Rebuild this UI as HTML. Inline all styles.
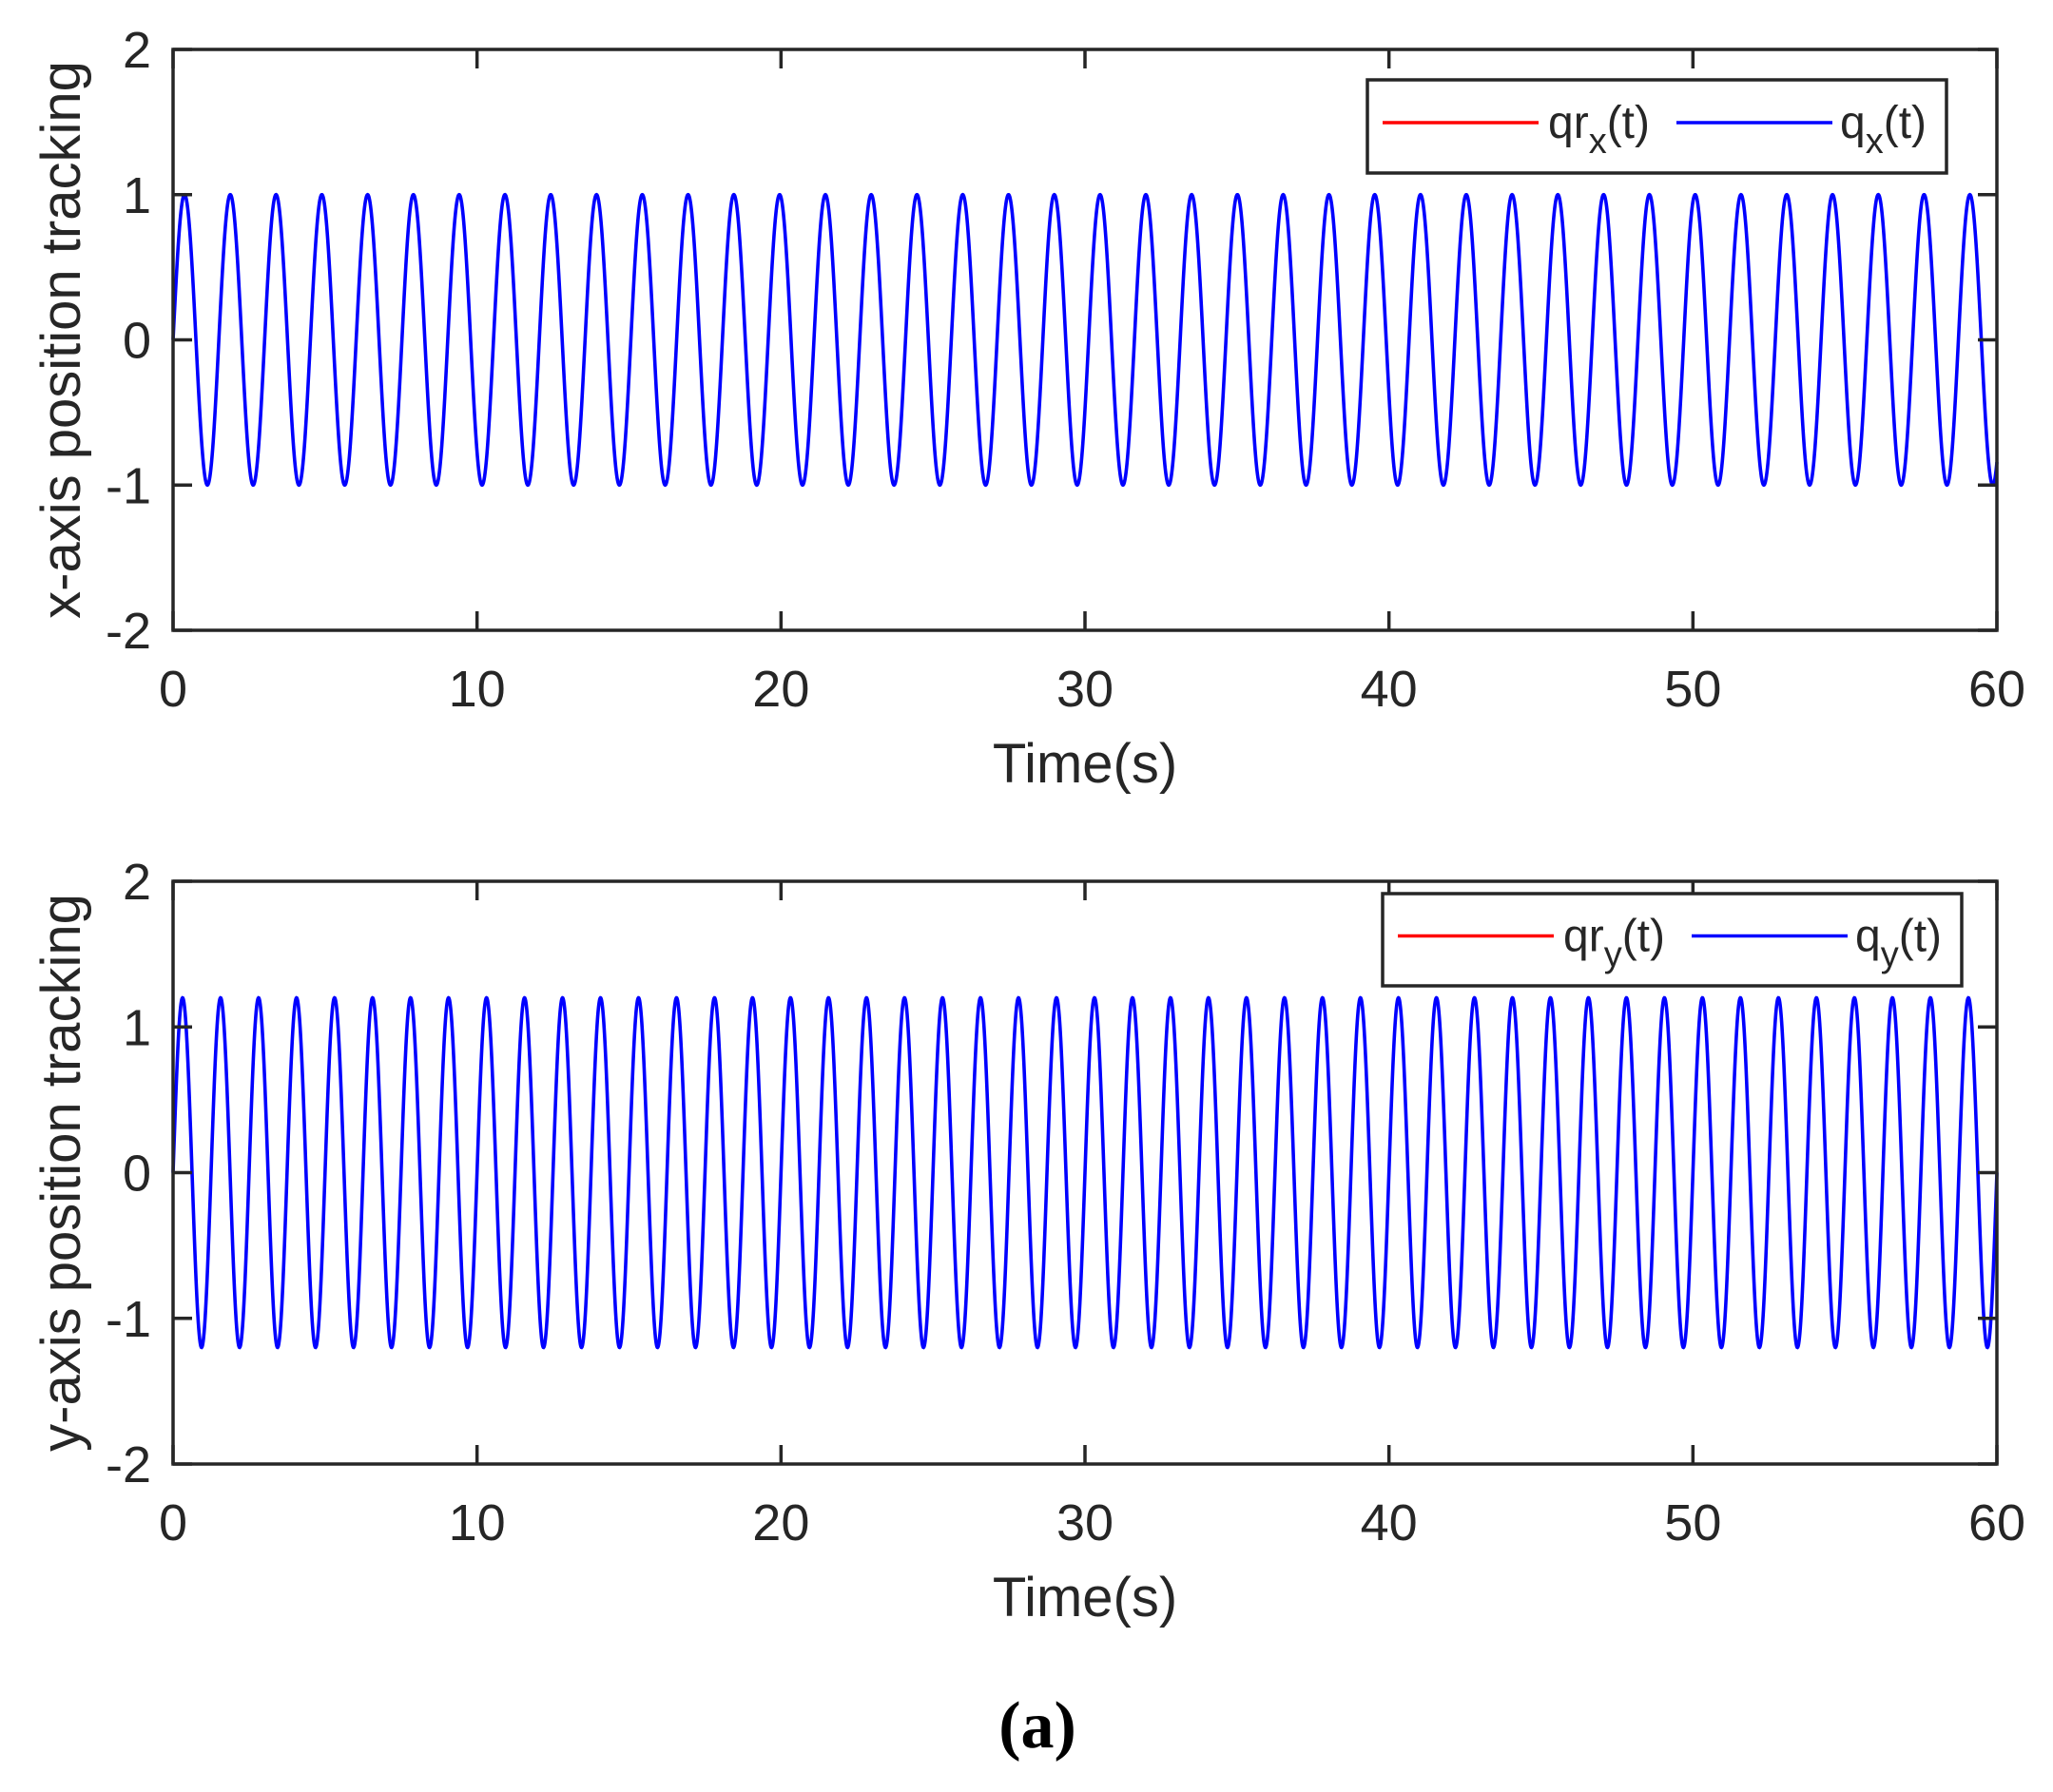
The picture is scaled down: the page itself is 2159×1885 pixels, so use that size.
<!DOCTYPE html>
<html><head><meta charset="utf-8"><style>
html,body{margin:0;padding:0;background:#fff}
svg{display:block}
text{font-family:"Liberation Sans",Arial,sans-serif;fill:#262626}
</style></head><body>
<svg id="s" width="2159" height="1885" viewBox="0 0 2159 1885" xmlns="http://www.w3.org/2000/svg">
<g id="g"></g>
<text x="1091" y="1838" text-anchor="middle" style="font-family:'Liberation Serif',serif;font-weight:bold;font-size:70px;fill:#000">(a)</text>
</svg>
<script>
var NS="http://www.w3.org/2000/svg",g=document.getElementById('g');
function el(t,a,txt){var e=document.createElementNS(NS,t);for(var k in a)e.setAttribute(k,a[k]);if(txt!==undefined)e.textContent=txt;g.appendChild(e);return e;}
var L=182,R=2100;
function panel(top,bot,amp,w,lab,leg,sub){
  var sx=function(t){return L+(R-L)*t/60;};
  var u=(bot-top)/4;var sy=function(v){return top+(2-v)*u;};
  var d="";
  for(var i=0;i<=6000;i++){var t=i*0.01;var y=amp*Math.sin(w*t);d+=(i?"L":"M")+sx(t).toFixed(2)+" "+sy(y).toFixed(2);}
  el('path',{d:d,fill:'none',stroke:'#0000ff','stroke-width':3.6});
  el('rect',{x:L,y:top,width:R-L,height:bot-top,fill:'none',stroke:'#262626','stroke-width':3.5});
  for(var k=0;k<=6;k++){var x=sx(k*10);
    el('line',{x1:x,y1:bot,x2:x,y2:bot-20,stroke:'#262626','stroke-width':3.5});
    el('line',{x1:x,y1:top,x2:x,y2:top+20,stroke:'#262626','stroke-width':3.5});
    el('text',{x:x,y:bot+80,'text-anchor':'middle','font-size':54},String(k*10));}
  for(var v=-2;v<=2;v++){var y=sy(v);
    el('line',{x1:L,y1:y,x2:L+20,y2:y,stroke:'#262626','stroke-width':3.5});
    el('line',{x1:R,y1:y,x2:R-20,y2:y,stroke:'#262626','stroke-width':3.5});
    el('text',{x:159,y:y+19,'text-anchor':'end','font-size':54},v<0?"-"+(-v):String(v));}
  el('text',{x:(L+R)/2,y:bot+160,'text-anchor':'middle','font-size':58},'Time(s)');
  var cy=(top+bot)/2;
  el('text',{x:84,y:cy,'text-anchor':'middle','font-size':58,transform:'rotate(-90 84 '+cy+')'},lab);
  var lx=leg[0],ly=leg[1],lw=leg[2],lh=leg[3];
  el('rect',{x:lx,y:ly,width:lw,height:lh,fill:'#fff',stroke:'#262626','stroke-width':3.5});
  var my=ly+lh/2-4;
  el('line',{x1:lx+16,y1:my,x2:lx+180,y2:my,stroke:'#ff0000','stroke-width':3.5});
  var t1=el('text',{x:lx+190,y:my+16,'font-size':48});
  t1.innerHTML='qr<tspan dy="16" font-size="38">'+sub+'</tspan><tspan dy="-16">(t)</tspan>';
  el('line',{x1:lx+325,y1:my,x2:lx+489,y2:my,stroke:'#0000ff','stroke-width':3.5});
  var t2=el('text',{x:lx+497,y:my+16,'font-size':48});
  t2.innerHTML='q<tspan dy="16" font-size="38">'+sub+'</tspan><tspan dy="-16">(t)</tspan>';
}
panel(52,663,1,2*Math.PI/1.506,'x-axis position tracking',[1438,84,609,98],'x');
panel(927,1540,1.2,2*Math.PI/1.25,'y-axis position tracking',[1454,940,609,97],'y');
</script>
</body></html>
